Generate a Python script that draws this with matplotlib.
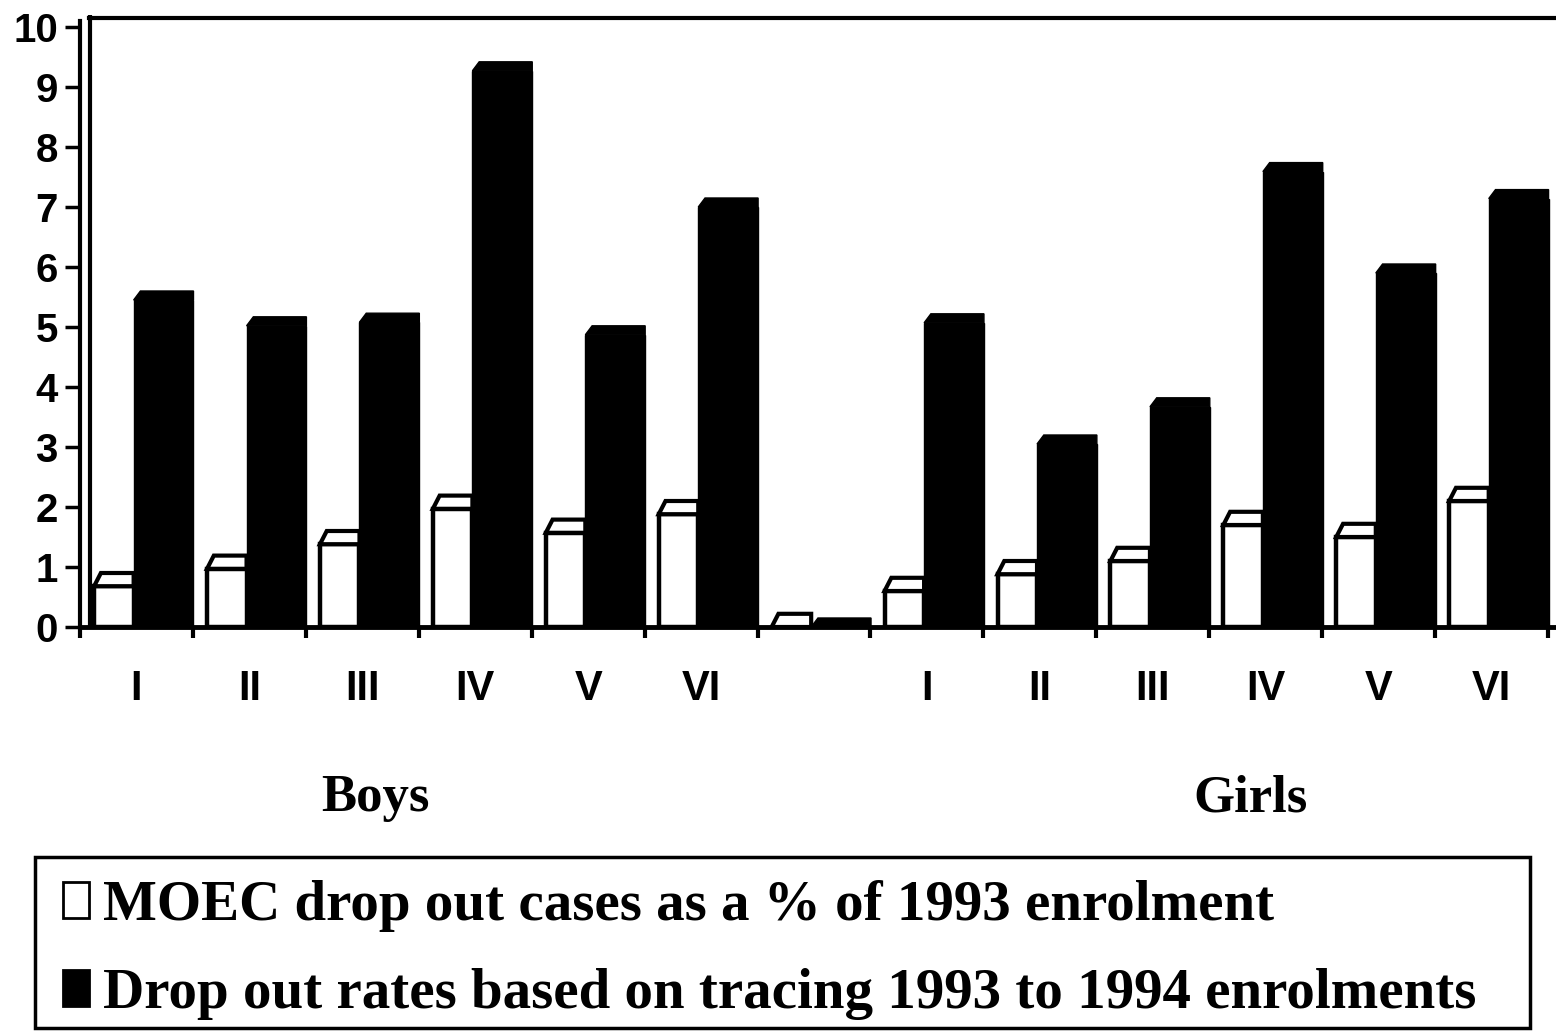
import numpy as np
import matplotlib
matplotlib.use("Agg")
import matplotlib.pyplot as plt
from matplotlib.patches import Rectangle

plt.rcParams['font.family'] = ['Liberation Sans', 'DejaVu Sans']

# Data (front-face height of each column), 13 slots: Boys I-VI, empty, Girls I-VI
grades = ['I', 'II', 'III', 'IV', 'V', 'VI', '', 'I', 'II', 'III', 'IV', 'V', 'VI']
moec = [0.68, 0.97, 1.38, 1.97, 1.57, 1.88, 0.0,
        0.6, 0.88, 1.1, 1.7, 1.5, 2.1]
tracing = [5.45, 5.02, 5.08, 9.27, 4.87, 7.0, 0.0,
           5.07, 3.05, 3.67, 7.59, 5.9, 7.14]
groups = ['Boys', 'Girls']
series_labels = ['MOEC drop out cases as a % of 1993 enrolment',
                 'Drop out rates based on tracing 1993 to 1994 enrolments']

W, H = 1556, 1031
fig = plt.figure(figsize=(W / 100, H / 100), dpi=100)
ax = fig.add_axes([80 / W, (H - 627) / H, 1476 / W, 612 / H])

n = len(grades)
cat_px = 1468 / n
ax.set_xlim(0, 1476 / cat_px)
ax.set_ylim(0, 612 / 60)

x = np.arange(n)
w_off, w_width = 0.125, 0.35
b_off, b_width = 0.475, 0.53
dx = 0.06

# columns with a bevelled 3-D top
white = ax.bar(x + w_off, moec, width=w_width, align='edge', color='white',
               edgecolor='black', linewidth=3.2, zorder=2, label=series_labels[0])
black = ax.bar(x + b_off, tracing, width=b_width, align='edge', color='black',
               edgecolor='black', linewidth=1, zorder=4, label=series_labels[1])
for xi, v in zip(x, moec):
    x0, x1 = xi + w_off, xi + w_off + w_width
    ax.fill([x0, x0 + dx, x1, x1], [v, v + 0.22, v + 0.22, v],
            facecolor='white', edgecolor='black', linewidth=3.0, zorder=3)
for xi, v in zip(x, tracing):
    x0, x1 = xi + b_off, xi + b_off + b_width
    ax.fill([x0, x0 + dx, x1, x1], [v, v + 0.15, v + 0.15, v],
            color='black', zorder=4)

# back wall edge and top edge
ax.plot([0.09, 0.09], [0, ax.get_ylim()[1]], color='black', lw=3, zorder=1)
ax.plot([0.006, 1], [0.995, 0.995], transform=ax.transAxes, color='black',
        lw=3, clip_on=False)

for s in ['top', 'right']:
    ax.spines[s].set_visible(False)
ax.spines['left'].set_linewidth(3)
ax.spines['left'].set_bounds(0, 10.1)
ax.spines['bottom'].set_linewidth(3.5)

ax.set_yticks(range(0, 11))
ax.tick_params(axis='y', length=11, width=2.5, pad=5, labelsize=29)
for t in ax.get_yticklabels():
    t.set_fontweight('bold')

ax.set_xticks(np.arange(0, n + 1))
ax.set_xticklabels([])
ax.set_xticks(x + 0.5, minor=True)
ax.set_xticklabels(grades, minor=True, fontsize=30, fontweight='bold')
ax.tick_params(axis='x', which='major', length=8, width=3, direction='out')
ax.tick_params(axis='x', which='minor', length=0, pad=30)

# group labels
for g, c in zip(groups, [375, 1250]):
    fig.text(c / W, 1 - 798 / H, g, ha='center', va='center', fontsize=38,
             fontweight='bold', family='Liberation Serif')

# legend box
fig.patches.append(Rectangle((35 / W, 1 - 1028 / H), 1495 / W, 171 / H,
                             transform=fig.transFigure, facecolor='none',
                             edgecolor='black', linewidth=2.5))
leg = fig.legend(handles=[white, black], labels=series_labels,
                 loc='center left', bbox_to_anchor=(12 / W, 1 - 950 / H),
                 frameon=False, handlelength=0.45, handleheight=0.6,
                 handletextpad=0.25, labelspacing=0.64,
                 prop={'family': 'Liberation Serif', 'weight': 'bold', 'size': 41})
for h in leg.legend_handles:
    h.set_linewidth(2)

fig.savefig('out.png', dpi=100)
